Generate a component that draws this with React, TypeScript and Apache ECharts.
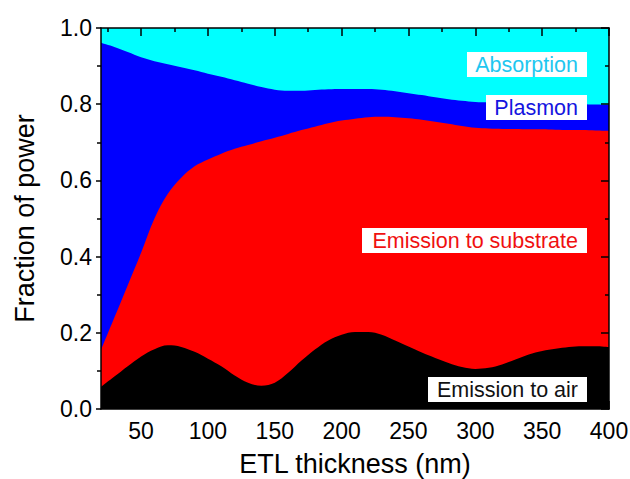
import React, { useEffect, useRef } from 'react';
import * as echarts from 'echarts';

// ETL thickness (nm)
const thickness = [
  20, 30, 40, 50, 60, 70, 80, 90, 100, 110, 120, 130, 140, 150, 160, 170, 180, 190, 200,
  210, 220, 230, 240, 250, 260, 270, 280, 290, 300, 310, 320, 330, 340, 350, 360, 370, 380, 390, 400,
];

// Cumulative fraction: emission to air (top of black region)
const airTop = [
  0.058, 0.085, 0.112, 0.138, 0.157, 0.167, 0.163, 0.150, 0.132, 0.112, 0.088, 0.069, 0.061, 0.069,
  0.095, 0.127, 0.156, 0.180, 0.195, 0.202, 0.202, 0.195, 0.180, 0.164, 0.148, 0.134, 0.121, 0.110,
  0.105, 0.108, 0.117, 0.130, 0.143, 0.152, 0.158, 0.163, 0.165, 0.165, 0.163,
];

// Cumulative fraction: air + substrate (top of red region)
const substrateTop = [
  0.155, 0.240, 0.325, 0.410, 0.500, 0.565, 0.607, 0.637, 0.655, 0.670, 0.683, 0.693, 0.703, 0.712,
  0.722, 0.732, 0.741, 0.750, 0.757, 0.762, 0.766, 0.767, 0.766, 0.763, 0.759, 0.754, 0.749, 0.743,
  0.738, 0.736, 0.735, 0.735, 0.734, 0.734, 0.733, 0.732, 0.732, 0.731, 0.730,
];

// Cumulative fraction: air + substrate + plasmon (top of blue region)
const plasmonTop = [
  0.961, 0.950, 0.937, 0.923, 0.913, 0.905, 0.897, 0.889, 0.880, 0.872, 0.863, 0.854, 0.845, 0.838,
  0.835, 0.835, 0.837, 0.839, 0.840, 0.840, 0.840, 0.838, 0.834, 0.829, 0.824, 0.818, 0.813, 0.809,
  0.806, 0.805, 0.804, 0.803, 0.802, 0.801, 0.801, 0.800, 0.800, 0.799, 0.798,
];

// Total (absorption fills up to 1.0)
const totalX = [20, 400];
const totalTop = [1.0, 1.0];

const xMajorTicks = [50, 100, 150, 200, 250, 300, 350, 400];
const xMinorTicks = [25, 75, 125, 175, 225, 275, 325, 375];

const FONT = "'Liberation Sans', Arial, sans-serif";

export default function App() {
  const ref = useRef<HTMLDivElement>(null);

  useEffect(() => {
    if (!ref.current) return;
    const chart = echarts.init(ref.current, undefined, { renderer: 'svg' });

    const pairs = (xs: number[], ys: number[]) => xs.map((x, i) => [x, ys[i]]);
    const axisLineStyle = { color: '#000', width: 1.5 };

    const areaSeries = (name: string, xs: number[], ys: number[], color: string) => ({
      name,
      type: 'line',
      xAxisIndex: 0,
      yAxisIndex: 0,
      data: pairs(xs, ys),
      smooth: 0.35,
      showSymbol: false,
      symbol: 'none',
      lineStyle: { width: 0, opacity: 0 },
      areaStyle: { color, opacity: 1 },
      emphasis: { disabled: true },
      silent: true,
    });

    const labelBox = (text: string, color: string, left: number, top: number, width: number) => ({
      type: 'group',
      children: [
        { type: 'rect', z: 100, shape: { x: left, y: top, width, height: 25 }, style: { fill: '#fff' } },
        {
          type: 'text',
          z: 101,
          x: left + width - 9,
          y: top + 12.5,
          style: {
            text,
            fill: color,
            fontSize: 21.5,
            fontFamily: FONT,
            align: 'right',
            verticalAlign: 'middle',
          },
        },
      ],
    });

    chart.setOption({
      animation: false,
      grid: { left: 101, right: 21, top: 28, bottom: 70, containLabel: false, outerBoundsMode: 'none' },
      xAxis: [
        {
          type: 'value',
          position: 'bottom',
          min: 20,
          max: 400,
          z: 10,
          axisLine: { show: true, onZero: false, lineStyle: axisLineStyle },
          axisTick: { show: true, inside: true, length: 8, customValues: xMajorTicks, lineStyle: { color: '#000', width: 1.5 } },
          axisLabel: { show: true, customValues: xMajorTicks, fontSize: 23, color: '#000', fontFamily: FONT, margin: 10 },
          splitLine: { show: false },
          name: 'ETL thickness (nm)',
          nameLocation: 'middle',
          nameGap: 41,
          nameTextStyle: { fontSize: 27, color: '#000', fontFamily: FONT, verticalAlign: 'top' },
        },
        {
          type: 'value',
          position: 'top',
          min: 20,
          max: 400,
          z: 10,
          axisLine: { show: true, onZero: false, lineStyle: axisLineStyle },
          axisTick: { show: true, inside: true, length: 8, customValues: xMajorTicks, lineStyle: { color: '#000', width: 1.5 } },
          axisLabel: { show: false },
          splitLine: { show: false },
        },
        {
          type: 'value',
          position: 'top',
          min: 20,
          max: 400,
          z: 10,
          axisLine: { show: false, onZero: false },
          axisTick: { show: true, inside: true, length: 4, customValues: xMinorTicks, lineStyle: { color: '#000', width: 1.5 } },
          axisLabel: { show: false },
          splitLine: { show: false },
        },
      ],
      yAxis: [
        {
          type: 'value',
          position: 'left',
          min: 0,
          max: 1,
          interval: 0.2,
          z: 10,
          axisLine: { show: true, onZero: false, lineStyle: axisLineStyle },
          axisTick: { show: true, inside: false, length: 5, lineStyle: { color: '#000', width: 1.5 } },
          minorTick: { show: true, splitNumber: 2, length: 4, lineStyle: { color: '#000', width: 1.5 } },
          axisLabel: {
            show: true,
            fontSize: 23,
            color: '#000',
            fontFamily: FONT,
            margin: 9,
            formatter: (v: number) => v.toFixed(1),
          },
          splitLine: { show: false },
          minorSplitLine: { show: false },
          name: 'Fraction of power',
          nameLocation: 'middle',
          nameGap: 63,
          nameTextStyle: { fontSize: 27, color: '#000', fontFamily: FONT },
        },
        {
          type: 'value',
          position: 'right',
          min: 0,
          max: 1,
          interval: 0.2,
          z: 10,
          axisLine: { show: true, onZero: false, lineStyle: axisLineStyle },
          axisTick: { show: true, inside: true, length: 8, lineStyle: { color: '#000', width: 1.5 } },
          minorTick: { show: true, splitNumber: 2, length: 4, lineStyle: { color: '#000', width: 1.5 } },
          axisLabel: { show: false },
          splitLine: { show: false },
        },
      ],
      series: [
        areaSeries('Absorption', totalX, totalTop, '#00ffff'),
        areaSeries('Plasmon', thickness, plasmonTop, '#0000ff'),
        areaSeries('Emission to substrate', thickness, substrateTop, '#ff0000'),
        areaSeries('Emission to air', thickness, airTop, '#000000'),
      ],
      graphic: [
        labelBox('Absorption', '#1fc7f0', 467, 52, 120),
        labelBox('Plasmon', '#1414e0', 486, 95, 101),
        labelBox('Emission to substrate', '#f01010', 362, 228, 225),
        labelBox('Emission to air', '#111111', 428, 377, 159),
      ],
    });

    return () => chart.dispose();
  }, []);

  return (
    <div
      ref={ref}
      style={{ position: 'fixed', left: 0, top: 0, width: 630, height: 479, background: '#fff' }}
    />
  );
}
